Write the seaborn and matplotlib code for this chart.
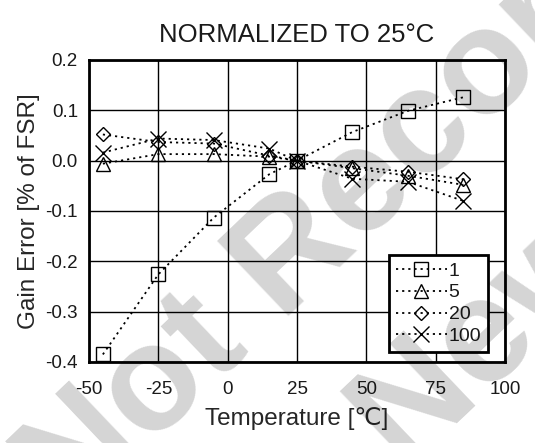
import numpy as np
import pandas as pd
import matplotlib
matplotlib.use("Agg")
import matplotlib.pyplot as plt
import matplotlib.ticker as ticker
import seaborn as sns

# Gain error vs temperature, normalized to 25 C
temps = [-45, -25, -5, 15, 25, 45, 65, 85]
gain_1 = [-0.385, -0.226, -0.113, -0.027, 0.0, 0.057, 0.099, 0.126]
gain_5 = [-0.006, 0.013, 0.013, 0.008, 0.0, -0.015, -0.030, -0.048]
gain_20 = [0.052, 0.037, 0.034, 0.010, 0.0, -0.012, -0.022, -0.037]
gain_100 = [0.016, 0.044, 0.041, 0.024, 0.0, -0.036, -0.042, -0.080]
series_labels = ["1", "5", "20", "100"]

sns.set_style("white")
plt.rcParams['font.family'] = ['Liberation Sans', 'DejaVu Sans']
plt.rcParams['text.color'] = '#1a1a1a'
plt.rcParams['axes.unicode_minus'] = False

fig = plt.figure(figsize=(5.35, 4.43), dpi=100)
ax = fig.add_axes([89 / 535, 1 - 362 / 443, 416 / 535, 302 / 443])

styles = [('s', 10), ('^', 10), ('D', 7), ('x', 11)]
for vals, lbl, (mk, ms) in zip([gain_1, gain_5, gain_20, gain_100], series_labels, styles):
    sns.lineplot(x=temps, y=vals, ax=ax, color='black', linestyle=(0, (1.2, 2.2)), linewidth=1.3,
                 marker=mk, markersize=ms, markerfacecolor='none', markeredgecolor='black',
                 markeredgewidth=1.0, label=lbl, legend=False)

ax.set_xlim(-50, 100)
ax.set_ylim(-0.4, 0.2)
ax.xaxis.set_major_locator(ticker.MultipleLocator(25))
ax.xaxis.set_minor_locator(ticker.MultipleLocator(5))
ax.yaxis.set_major_locator(ticker.MultipleLocator(0.1))
ax.yaxis.set_minor_locator(ticker.MultipleLocator(0.02))
ax.yaxis.set_major_formatter(ticker.FuncFormatter(lambda v, p: f"{round(v, 1) + 0:.1f}"))
ax.tick_params(which='both', direction='out', width=1.2, labelsize=13.5, colors='black', labelcolor='#1a1a1a')
ax.tick_params(which='major', length=5)
ax.tick_params(which='minor', length=4)
ax.tick_params(axis='x', pad=9)
ax.tick_params(axis='y', pad=3)
ax.grid(which='major', color='black', linewidth=1.0)
for sp in ax.spines.values():
    sp.set_linewidth(2.0)
    sp.set_color('black')

ax.set_xlabel('Temperature [\u2103]', fontsize=17.5, labelpad=6)
ax.set_ylabel('Gain Error [% of FSR]', fontsize=17.5, labelpad=4)
ax.set_title('NORMALIZED TO 25°C', fontsize=18.5, pad=13)

leg = ax.legend(loc='lower right', bbox_to_anchor=(0.959, 0.033), borderaxespad=0,
                fontsize=14, frameon=True, fancybox=False, framealpha=1,
                handlelength=2.6, labelspacing=0.22, handletextpad=0.1, borderpad=0.35)
leg.get_frame().set_edgecolor('black')
leg.get_frame().set_linewidth(2.0)

# watermark
fig.text(0.131, -0.181, 'Not Recommended', fontsize=108, fontweight='bold', color='black', alpha=0.17,
         rotation=43.6, rotation_mode='anchor', ha='left', va='baseline')
fig.text(0.43, -0.445, 'for New Design', fontsize=108, fontweight='bold', color='black', alpha=0.17,
         rotation=43.6, rotation_mode='anchor', ha='left', va='baseline')

fig.savefig('out.png', dpi=100)
